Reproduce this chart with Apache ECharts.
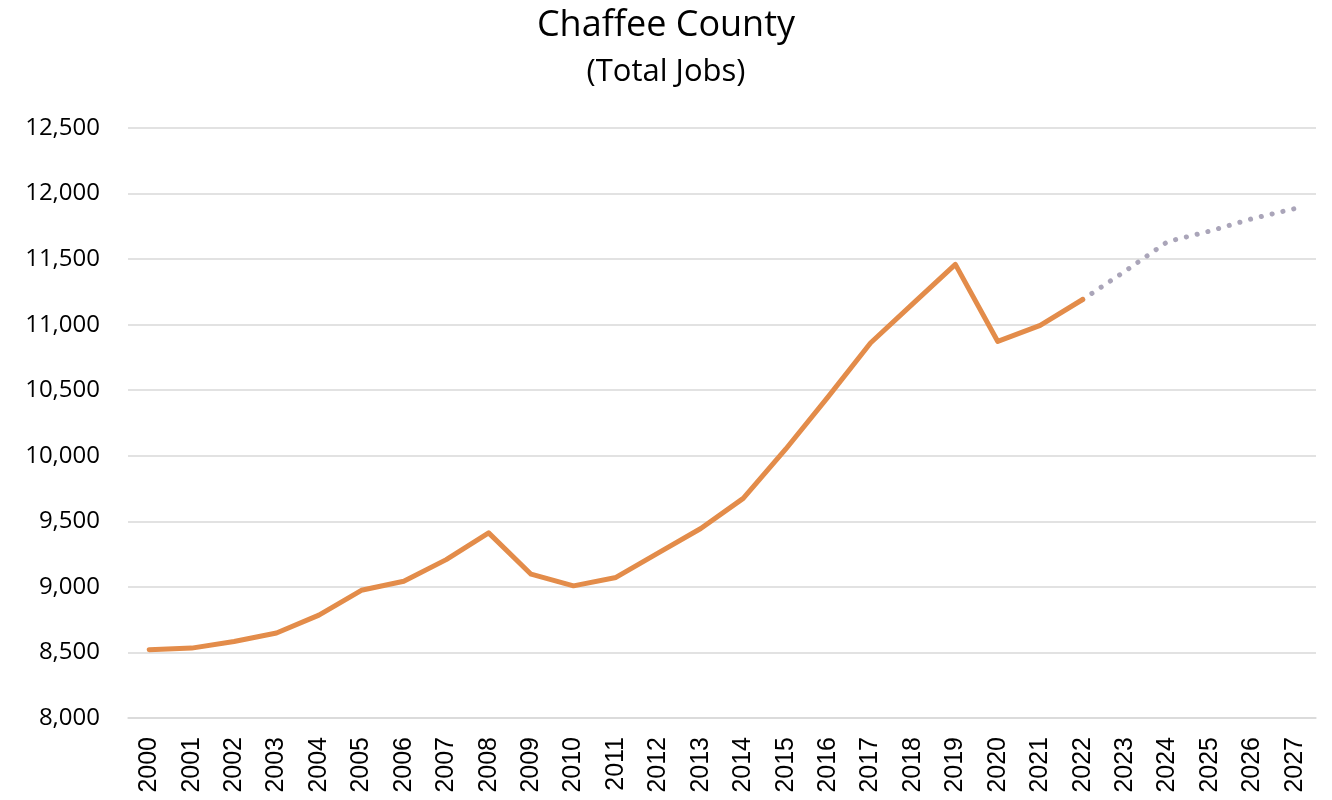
<!DOCTYPE html>
<html>
<head>
<meta charset="utf-8">
<script src="https://cdn.jsdelivr.net/npm/echarts@6/dist/echarts.min.js"></script>
<style>html,body{margin:0;padding:0;background:#fff;}#c{width:1332px;height:800px;}</style>
</head>
<body>
<div id="c"></div>
<script>
var years = ['2000','2001','2002','2003','2004','2005','2006','2007','2008','2009','2010','2011','2012','2013','2014','2015','2016','2017','2018','2019','2020','2021','2022','2023','2024','2025','2026','2027'];
var actualJobs = [8521,8533,8584,8648,8785,8974,9043,9208,9412,9097,9008,9072,9260,9445,9675,10050,10449,10860,11160,11460,10872,10995,11192,null,null,null,null,null];
var forecastJobs = [null,null,null,null,null,null,null,null,null,null,null,null,null,null,null,null,null,null,null,null,null,null,11192,11408,11633,11714,11809,11885];
var yTicks = {min: 8000, max: 12500, interval: 500};

var chart = echarts.init(document.getElementById('c'));
chart.setOption({
  animation: false,
  backgroundColor: '#fff',
  title: [
    {text: 'Chaffee County', left: 'center', top: 3, textStyle: {fontFamily: 'Open Sans', fontSize: 36, fontWeight: 'normal', color: '#000'}},
    {text: '(Total Jobs)', left: 'center', top: 52, textStyle: {fontFamily: 'Open Sans', fontSize: 31, fontWeight: 'normal', color: '#000'}}
  ],
  grid: {left: 128, right: 16, top: 128, bottom: 82, containLabel: false},
  xAxis: {
    type: 'category',
    data: years,
    boundaryGap: true,
    axisLine: {lineStyle: {color: '#d9d9d9', width: 1.5}},
    axisTick: {show: false},
    axisLabel: {rotate: 90, color: '#000', fontFamily: 'Liberation Sans', fontSize: 25, margin: 19, interval: 0}
  },
  yAxis: {
    type: 'value',
    min: yTicks.min, max: yTicks.max, interval: yTicks.interval,
    axisLine: {show: false},
    axisTick: {show: false},
    splitLine: {lineStyle: {color: '#d9d9d9', width: 1.5}},
    axisLabel: {color: '#000', fontFamily: 'Open Sans', fontSize: 24, margin: 28,
      formatter: function (v) { return v.toLocaleString('en-US'); }}
  },
  series: [
    {type: 'line', data: forecastJobs, symbol: 'none', connectNulls: false,
      lineStyle: {color: '#aaa5b9', width: 5, type: [0.1, 11], cap: 'round'}, z: 2},
    {type: 'line', data: actualJobs, symbol: 'none', connectNulls: false,
      lineStyle: {color: '#e38c4a', width: 5, cap: 'round', join: 'round'}, z: 3}
  ]
});
</script>
</body>
</html>
